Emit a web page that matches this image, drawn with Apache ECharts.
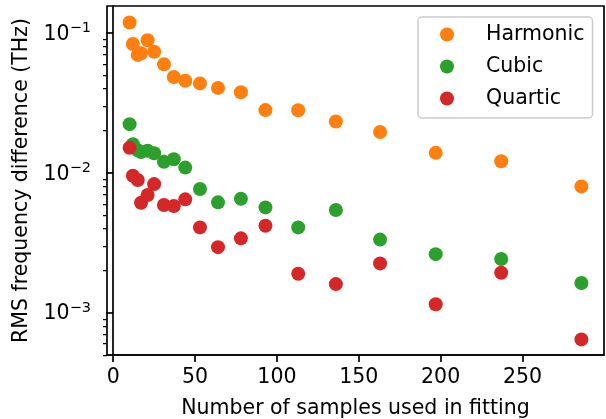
<!DOCTYPE html>
<html>
<head>
<meta charset="utf-8">
<script src="https://cdn.jsdelivr.net/npm/echarts@6/dist/echarts.min.js"></script>
<style>
html,body{margin:0;padding:0;background:#fff;}
#chart{width:606px;height:419px;}
</style>
</head>
<body>
<div id="chart"></div>
<script>
var sampleCounts = [10, 12, 15, 17, 21, 25, 31, 37, 44, 53, 64, 78, 93, 113, 136, 163, 197, 237, 286];
var harmonic = [0.119, 0.0834, 0.0697, 0.0716, 0.0887, 0.0735, 0.0597, 0.0484, 0.0456, 0.0436, 0.0405, 0.0377, 0.0281, 0.0280, 0.0233, 0.0196, 0.0139, 0.0121, 0.0080];
var cubic = [0.0223, 0.0160, 0.0145, 0.0141, 0.0144, 0.0138, 0.0120, 0.0125, 0.0109, 0.00766, 0.00615, 0.00653, 0.00566, 0.00407, 0.00542, 0.00333, 0.00262, 0.00242, 0.00163];
var quartic = [0.0151, 0.00953, 0.00888, 0.00611, 0.00694, 0.00831, 0.00589, 0.00579, 0.00646, 0.00407, 0.00294, 0.00340, 0.00418, 0.00190, 0.00160, 0.00225, 0.00115, 0.00193, 0.000644];
var seriesNames = ['Harmonic', 'Cubic', 'Quartic'];
var xTicks = [0, 50, 100, 150, 200, 250];
var yMajorTicks = [0.001, 0.01, 0.1];
var yMinorMantissas = [2, 3, 4, 5, 6, 7, 8, 9];
var yMinorDecades = [0.0001, 0.001, 0.01, 0.1];

var yMinorTicks = [];
yMinorDecades.forEach(function (d) {
  yMinorMantissas.forEach(function (m) { yMinorTicks.push(+(m * d).toPrecision(3)); });
});

var FONT = 'DejaVu Sans';
var FS = 20.5;
var colors = ['#ff7f0e', '#2ca02c', '#d62728'];
var values = [harmonic, cubic, quartic];

function pairs(arr) {
  return sampleCounts.map(function (x, i) { return [x, arr[i]]; });
}

var yMin = 0.000498, yMax = 0.156;

var chart = echarts.init(document.getElementById('chart'), null, {renderer: 'canvas'});
chart.setOption({
  animation: false,
  backgroundColor: '#ffffff',
  textStyle: {fontFamily: FONT, color: '#000'},
  grid: {
    left: 107, right: 2, top: 6, bottom: 64,
    show: true, borderColor: '#000', borderWidth: 1.7,
    containLabel: false, outerBoundsMode: 'none'
  },
  legend: {
    orient: 'vertical',
    left: 418, top: 17,
    data: seriesNames,
    icon: 'circle',
    itemWidth: 14, itemHeight: 14, itemGap: 11,
    padding: [7, 8, 9, 22],
    backgroundColor: 'rgba(255,255,255,0.8)',
    borderColor: '#cccccc', borderWidth: 1.5, borderRadius: 4,
    textStyle: {fontFamily: FONT, fontSize: FS, color: '#000', lineHeight: 20, padding: [0, 0, 0, 27]}
  },
  xAxis: {
    type: 'value', min: -3.8, max: 299.8,
    name: 'Number of samples used in fitting',
    nameLocation: 'middle', nameGap: 43,
    nameTextStyle: {fontFamily: FONT, fontSize: FS, color: '#000'},
    axisLine: {show: true, onZero: false, lineStyle: {color: '#000', width: 1.7}},
    axisTick: {show: true, length: 7, lineStyle: {color: '#000', width: 1.7}, customValues: xTicks},
    axisLabel: {show: true, margin: 12, fontFamily: FONT, fontSize: FS, color: '#000', customValues: xTicks},
    splitLine: {show: false}
  },
  yAxis: [{
    type: 'log', logBase: 10, min: yMin, max: yMax,
    name: 'RMS frequency difference (THz)',
    nameLocation: 'middle', nameGap: 69,
    nameTextStyle: {fontFamily: FONT, fontSize: FS, color: '#000'},
    axisLine: {show: true, lineStyle: {color: '#000', width: 1.7}},
    axisTick: {show: true, length: 7, lineStyle: {color: '#000', width: 1.7}, customValues: yMajorTicks},
    axisLabel: {
      show: true, margin: 16, color: '#000', customValues: yMajorTicks,
      formatter: function (v) {
        var e = Math.round(Math.log10(v));
        return '{b|10}{s|' + (e < 0 ? '\u2212' : '') + Math.abs(e) + '}';
      },
      rich: {
        b: {fontFamily: FONT, fontSize: FS, color: '#000', lineHeight: 24, verticalAlign: 'bottom'},
        s: {fontFamily: FONT, fontSize: 14.5, color: '#000', lineHeight: 24, verticalAlign: 'top'}
      }
    },
    splitLine: {show: false},
    minorTick: {show: false}
  }, {
    type: 'log', logBase: 10, min: yMin, max: yMax, position: 'left', offset: 0,
    axisLine: {show: false},
    axisTick: {show: true, length: 4, lineStyle: {color: '#000', width: 1.25}, customValues: yMinorTicks},
    axisLabel: {show: false},
    splitLine: {show: false}
  }],
  series: seriesNames.map(function (name, i) {
    return {
      name: name, type: 'scatter', yAxisIndex: 0,
      symbol: 'circle', symbolSize: 14,
      itemStyle: {color: colors[i], opacity: 1},
      emphasis: {disabled: true},
      data: pairs(values[i])
    };
  })
});
</script>
</body>
</html>
